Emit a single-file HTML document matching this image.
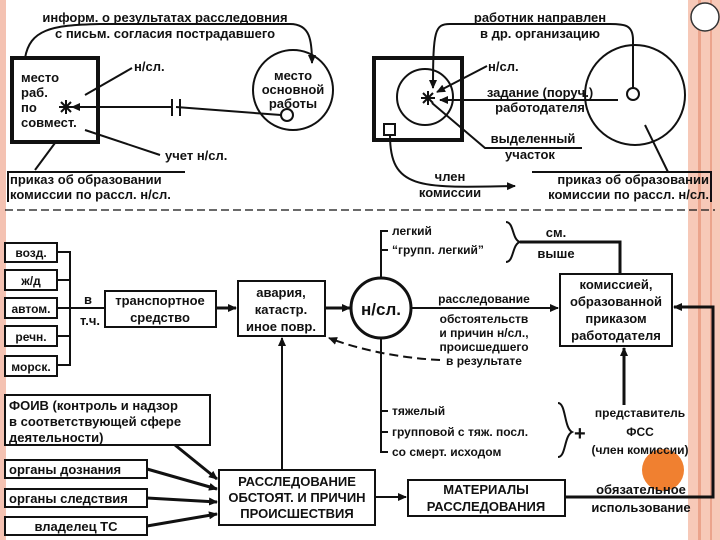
<!DOCTYPE html>
<html><head><meta charset="utf-8"><style>
html,body{margin:0;padding:0;background:#fff;}
svg{display:block;}
text{font-family:"Liberation Sans","DejaVu Sans",sans-serif;font-weight:bold;font-size:13px;fill:#111;}
</style></head><body>
<svg width="720" height="540" viewBox="0 0 720 540" xmlns="http://www.w3.org/2000/svg">
<defs>
<marker id="a" markerWidth="10" markerHeight="10" refX="8" refY="5" orient="auto" markerUnits="userSpaceOnUse"><path d="M0,1 L9,5 L0,9 z" fill="#111"/></marker>
</defs>
<rect x="0" y="0" width="6" height="540" fill="#f4c2b2"/>
<rect x="688" y="0" width="32" height="540" fill="#f7c9b8"/>
<rect x="698" y="0" width="3" height="540" fill="#eba48c"/>
<rect x="710" y="0" width="2" height="540" fill="#eba48c"/>
<circle cx="705" cy="17" r="14" fill="#fff" stroke="#333" stroke-width="1.5"/>
<g stroke="#111" fill="none" stroke-width="2">
<rect x="12" y="58" width="86" height="84" stroke-width="4"/>
<circle cx="293" cy="90" r="40"/>
<circle cx="287" cy="115" r="6"/>
<line x1="281" y1="115" x2="176" y2="107"/>
<line x1="172" y1="107" x2="72" y2="107" marker-end="url(#a)"/>
<line x1="172" y1="99" x2="172" y2="116"/>
<line x1="180" y1="99" x2="180" y2="116"/>
<path d="M25,58 C30,30 50,25 100,24 L290,24 C310,24 312,40 312,63" marker-end="url(#a)"/>
<line x1="132" y1="68" x2="85" y2="95"/>
<line x1="85" y1="130" x2="160" y2="155"/>
<line x1="55" y1="143" x2="35" y2="170"/>
<polyline points="185,172 8,172 8,202"/>
<rect x="374" y="58" width="88" height="82" stroke-width="4"/>
<circle cx="425" cy="97" r="28"/>
<rect x="384" y="124" width="11" height="11"/>
<circle cx="635" cy="95" r="50"/>
<circle cx="633" cy="94" r="6"/>
<line x1="618" y1="100" x2="440" y2="100" marker-end="url(#a)"/>
<path d="M633,88 L633,40 C633,25 625,24 610,24 L450,24 C435,24 433,30 433,88" marker-end="url(#a)"/>
<line x1="487" y1="66" x2="437" y2="92" marker-end="url(#a)"/>
<path d="M432,103 L485,148 L582,148"/>
<path d="M390,135 C390,190 420,188 515,186" marker-end="url(#a)"/>
<line x1="645" y1="125" x2="668" y2="172"/>
<polyline points="532,172 711,172 711,202"/>
</g>
<g stroke="#111" stroke-width="2">
<line x1="59" y1="107" x2="73" y2="107"/><line x1="66" y1="100" x2="66" y2="114"/>
<line x1="61" y1="102" x2="71" y2="112"/><line x1="71" y1="102" x2="61" y2="112"/>
<line x1="421" y1="98" x2="435" y2="98"/><line x1="428" y1="91" x2="428" y2="105"/>
<line x1="423" y1="93" x2="433" y2="103"/><line x1="433" y1="93" x2="423" y2="103"/>
</g>
<line x1="5" y1="210" x2="715" y2="210" stroke="#111" stroke-width="1.2" stroke-dasharray="8,4"/>
<g stroke="#111" fill="none" stroke-width="2">
<rect x="5" y="243" width="52" height="19"/>
<rect x="5" y="270" width="52" height="20"/>
<rect x="5" y="298" width="52" height="20"/>
<rect x="5" y="326" width="52" height="20"/>
<rect x="5" y="356" width="52" height="20"/>
<polyline points="57,252 70,252 70,365 57,365"/>
<line x1="57" y1="280" x2="70" y2="280"/>
<line x1="57" y1="336" x2="70" y2="336"/>
<line x1="57" y1="308" x2="105" y2="308"/>
<rect x="105" y="291" width="111" height="36"/>
<line x1="216" y1="308" x2="236" y2="308" stroke-width="3" marker-end="url(#a)"/>
<rect x="238" y="281" width="87" height="55"/>
<line x1="325" y1="308" x2="350" y2="308" stroke-width="3" marker-end="url(#a)"/>
<circle cx="381" cy="308" r="30" stroke-width="3"/>
<polyline points="388,231 381,231 381,278"/>
<line x1="381" y1="250" x2="388" y2="250"/>
<path d="M506,222 C514,222 512,240 520,242 C512,244 514,262 506,262"/>
<polyline points="520,242 620,242 620,273" stroke-width="3"/>
<line x1="411" y1="308" x2="558" y2="308" marker-end="url(#a)"/>
<rect x="560" y="274" width="112" height="72"/>
<path d="M440,360 C400,358 360,350 329,338" stroke-dasharray="9,5" marker-end="url(#a)"/>
<polyline points="381,338 381,452 388,452"/>
<line x1="381" y1="411" x2="388" y2="411"/>
<line x1="381" y1="432" x2="388" y2="432"/>
<path d="M558,403 C566,403 564,428 572,432 C564,436 566,457 558,457"/>
<line x1="624" y1="405" x2="624" y2="348" stroke-width="3" marker-end="url(#a)"/>
<polyline points="566,497 713,497 713,307 674,307" stroke-width="3" marker-end="url(#a)"/>
<rect x="408" y="480" width="157" height="36"/>
<line x1="375" y1="497" x2="406" y2="497" marker-end="url(#a)"/>
<rect x="219" y="470" width="156" height="55"/>
<line x1="282" y1="470" x2="282" y2="338" marker-end="url(#a)"/>
<rect x="5" y="395" width="205" height="50"/>
<rect x="5" y="460" width="142" height="18"/>
<rect x="5" y="489" width="142" height="18"/>
<rect x="5" y="517" width="142" height="18"/>
<line x1="175" y1="445" x2="217" y2="479" stroke-width="3" marker-end="url(#a)"/>
<line x1="147" y1="469" x2="217" y2="489" stroke-width="3" marker-end="url(#a)"/>
<line x1="147" y1="498" x2="217" y2="502" stroke-width="3" marker-end="url(#a)"/>
<line x1="147" y1="526" x2="217" y2="514" stroke-width="3" marker-end="url(#a)"/>
</g>
<circle cx="663" cy="470" r="21" fill="#f08030"/>
<g text-anchor="middle">
<text x="165" y="22">информ. о результатах расследовния</text>
<text x="165" y="38">с письм. согласия пострадавшего</text>
<text x="293" y="80">место</text>
<text x="293" y="94">основной</text>
<text x="293" y="108">работы</text>
<text x="540" y="22">работник направлен</text>
<text x="540" y="38">в др. организацию</text>
<text x="540" y="97">задание (поруч.)</text>
<text x="540" y="112">работодателя</text>
<text x="533" y="143">выделенный</text>
<text x="530" y="159">участок</text>
<text x="450" y="181">член</text>
<text x="450" y="197">комиссии</text>
</g>
<text x="21" y="82">место</text>
<text x="21" y="97">раб.</text>
<text x="21" y="112">по</text>
<text x="21" y="127">совмест.</text>
<text x="134" y="71">н/сл.</text>
<text x="488" y="71">н/сл.</text>
<text x="165" y="160">учет н/сл.</text>
<text x="10" y="184">приказ об образовании</text>
<text x="10" y="199">комиссии по рассл. н/сл.</text>
<text x="709" y="184" text-anchor="end">приказ об образовании</text>
<text x="709" y="199" text-anchor="end">комиссии по рассл. н/сл.</text>
<g text-anchor="middle">
<text x="31" y="257" style="font-size:12px">возд.</text>
<text x="31" y="285" style="font-size:12px">ж/д</text>
<text x="31" y="313" style="font-size:12px">автом.</text>
<text x="31" y="341" style="font-size:12px">речн.</text>
<text x="31" y="371" style="font-size:12px">морск.</text>
</g>
<text x="88" y="304" text-anchor="middle">в</text>
<text x="90" y="325" text-anchor="middle">т.ч.</text>
<g text-anchor="middle">
<text x="160" y="305">транспортное</text>
<text x="160" y="322">средство</text>
<text x="281" y="297">авария,</text>
<text x="281" y="314">катастр.</text>
<text x="281" y="331">иное повр.</text>
<text x="381" y="315" style="font-size:17px">н/сл.</text>
<text x="556" y="237">см.</text>
<text x="556" y="258">выше</text>
<text x="484" y="303" style="font-size:12px">расследование</text>
<text x="484" y="323" style="font-size:12px">обстоятельств</text>
<text x="484" y="337" style="font-size:12px">и причин н/сл.,</text>
<text x="484" y="351" style="font-size:12px">происшедшего</text>
<text x="484" y="365" style="font-size:12px">в результате</text>
<text x="616" y="289">комиссией,</text>
<text x="616" y="306">образованной</text>
<text x="616" y="323">приказом</text>
<text x="616" y="340">работодателя</text>
<text x="640" y="417" style="font-size:12px">представитель</text>
<text x="640" y="436" style="font-size:12px">ФСС</text>
<text x="640" y="454" style="font-size:12px">(член комиссии)</text>
<text x="641" y="494">обязательное</text>
<text x="641" y="512">использование</text>
<text x="486" y="494">МАТЕРИАЛЫ</text>
<text x="486" y="511">РАССЛЕДОВАНИЯ</text>
<text x="297" y="486">РАССЛЕДОВАНИЕ</text>
<text x="297" y="502">ОБСТОЯТ. И ПРИЧИН</text>
<text x="297" y="518">ПРОИСШЕСТВИЯ</text>
<text x="76" y="531">владелец ТС</text>
</g>
<text x="392" y="235" style="font-size:12px">легкий</text>
<text x="392" y="254" style="font-size:12px">“групп. легкий”</text>
<text x="392" y="415" style="font-size:12px">тяжелый</text>
<text x="392" y="436" style="font-size:12px">групповой с тяж. посл.</text>
<text x="392" y="456" style="font-size:12px">со смерт. исходом</text>
<text x="574" y="440" style="font-size:20px">+</text>
<text x="9" y="410">ФОИВ (контроль и надзор</text>
<text x="9" y="426">в соответствующей сфере</text>
<text x="9" y="442">деятельности)</text>
<text x="9" y="474">органы дознания</text>
<text x="9" y="503">органы следствия</text>
</svg>
</body></html>
